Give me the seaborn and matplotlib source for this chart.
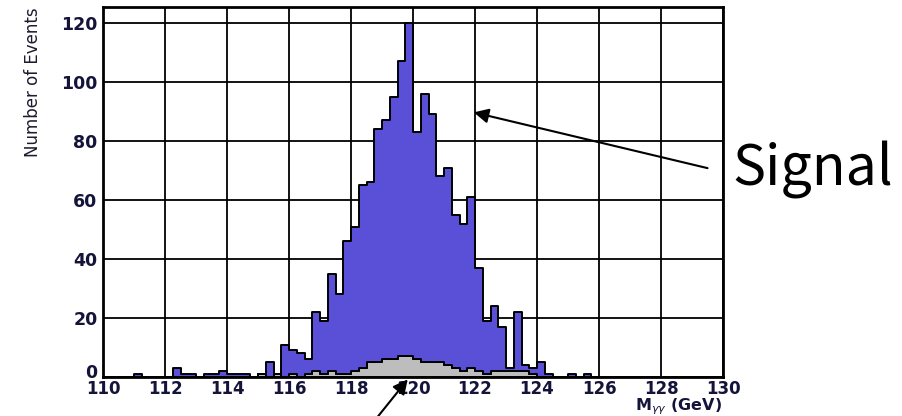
import numpy as np
import pandas as pd
import matplotlib
matplotlib.use("Agg")
import matplotlib.pyplot as plt
from matplotlib.ticker import MultipleLocator
from matplotlib.transforms import ScaledTranslation
import seaborn as sns

# Diphoton invariant mass, 0.25 GeV bins from 110 to 130 GeV
bin_lo = 110.0
bin_hi = 130.0
n_bins = 80

signal_counts = [
    0, 0, 0, 0, 1, 0, 0, 0,
    0, 3, 1, 1, 0, 1, 1, 2,
    1, 1, 1, 0, 0, 5, 0, 11,
    8, 8, 5, 20, 18, 33, 27, 45,
    49, 62, 61, 79, 81, 89, 100, 113,
    77, 91, 84, 63, 67, 52, 50, 58,
    35, 18, 22, 15, 1, 20, 2, 2,
    5, 1, 0, 0, 1, 0, 1, 0,
    0, 0, 0, 0, 0, 0, 0, 0,
    0, 0, 0, 0, 0, 0, 0, 0,
]
background_counts = [
    0, 0, 0, 0, 0, 0, 0, 0,
    0, 0, 0, 0, 0, 0, 0, 0,
    0, 0, 0, 0, 1, 0, 1, 0,
    1, 0, 1, 2, 1, 2, 1, 1,
    2, 3, 5, 5, 6, 6, 7, 7,
    6, 5, 5, 5, 4, 3, 2, 3,
    2, 1, 2, 2, 2, 2, 2, 1,
    0, 0, 0, 0, 0, 0, 0, 0,
    0, 0, 0, 0, 0, 0, 0, 0,
    0, 0, 0, 0, 0, 0, 0, 0,
]
x_ticks = [110, 112, 114, 116, 118, 120, 122, 124, 126, 128, 130]
y_ticks = [0, 20, 40, 60, 80, 100, 120]

edges = np.linspace(bin_lo, bin_hi, n_bins + 1)
centers = 0.5 * (edges[:-1] + edges[1:])

df = pd.concat([
    pd.DataFrame({"mass": centers, "events": signal_counts, "process": "Signal"}),
    pd.DataFrame({"mass": centers, "events": background_counts, "process": "Background"}),
], ignore_index=True)

sns.set_style("white")
plt.rcParams["font.family"] = ["DejaVu Sans"]

fig = plt.figure(figsize=(9.02, 4.16), dpi=100)
ax = fig.add_axes([0.1142, 0.0938, 0.6874, 0.8892])

sns.histplot(
    data=df, x="mass", weights="events", hue="process",
    hue_order=["Signal", "Background"], multiple="stack",
    bins=n_bins, binrange=(bin_lo, bin_hi), element="step", fill=True, alpha=1.0,
    palette={"Signal": "#5a50d8", "Background": "#bdbdbd"},
    edgecolor="black", linewidth=1.4, legend=False, ax=ax, zorder=3,
)

ax.set_xlim(bin_lo, bin_hi)
ax.set_ylim(0, 125.4)
ax.set_xticks(x_ticks)
ax.set_yticks(y_ticks)
ax.xaxis.set_minor_locator(MultipleLocator(0.5))
ax.yaxis.set_minor_locator(MultipleLocator(5))
ax.grid(True, which="major", color="black", linewidth=1.3, zorder=1)
ax.set_axisbelow(True)

label_color = "#14143a"
ax.tick_params(axis="both", which="major", direction="in", length=12, width=1.3,
               labelsize=12.5, labelcolor=label_color, pad=4)
ax.tick_params(axis="x", which="major", labelsize=12, pad=2)
ax.tick_params(axis="both", which="minor", direction="in", length=7, width=1.3)
for lbl in ax.get_xticklabels() + ax.get_yticklabels():
    lbl.set_fontweight("bold")

# lift the zero label a little so it sits just above the first x label
zero_lbl = ax.get_yticklabels()[0]
zero_lbl.set_transform(zero_lbl.get_transform() + ScaledTranslation(0, 4 / 72, fig.dpi_scale_trans))

for sp in ax.spines.values():
    sp.set_visible(True)
    sp.set_color("black")
    sp.set_linewidth(2.0)
    sp.set_zorder(5)

ax.set_ylabel("Number of Events", fontsize=12, color="#1c1c2e", loc="top")
ax.yaxis.set_label_coords(-0.098, 1.0)
ax.set_xlabel(r"M$_{\gamma\gamma}$ (GeV)", fontsize=11.5, fontweight="bold",
              color=label_color, loc="right")
ax.xaxis.set_label_coords(0.998, -0.052)

# Callouts
ax.annotate("", xy=(121.96, 89.7), xytext=(129.5, 70.8),
            arrowprops=dict(arrowstyle="-|>", color="black", lw=1.5,
                            mutation_scale=22, shrinkA=0, shrinkB=0),
            annotation_clip=False, zorder=6)
ax.text(130.3, 70, "Signal", fontsize=40, family=["Noto Sans CJK JP", "DejaVu Sans"],
        color="black", ha="left", va="center", clip_on=False)
ax.annotate("", xy=(119.83, -0.8), xytext=(118.86, -13.5),
            arrowprops=dict(arrowstyle="-|>", color="black", lw=1.5,
                            mutation_scale=22, shrinkA=0, shrinkB=0),
            annotation_clip=False, zorder=6)

fig.savefig("out.png", dpi=100)
